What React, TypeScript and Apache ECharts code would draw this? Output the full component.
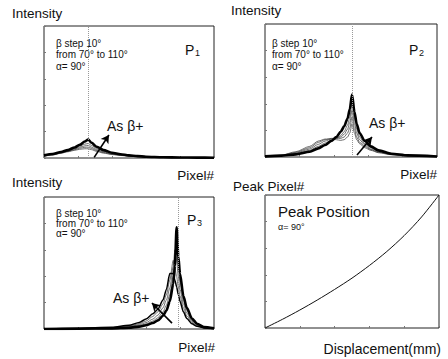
import React, { useEffect, useRef } from "react";
import * as echarts from "echarts";

// ---------- data ----------
const betaSteps = ["70°", "80°", "90°", "100°", "110°"];

// Panel P1 (pixel index 0-100, intensity 0-100)
const p1X = [0, 5, 10, 14, 18, 21, 24, 26, 28, 31, 35, 40, 45, 50, 55, 60, 70, 80, 90, 100];
const p1Curves = [
  [2, 3, 4.5, 6, 8, 10, 12.5, 14, 11.5, 8.5, 6, 4, 2.8, 2, 1.4, 1, 0.6, 0.4, 0.3, 0.2],
  [1.8, 2.8, 4.2, 5.6, 7.4, 9, 10.5, 11, 9.5, 7.2, 5.2, 3.5, 2.5, 1.8, 1.3, 0.9, 0.5, 0.4, 0.3, 0.2],
  [1.6, 2.6, 4, 5.3, 6.8, 8.2, 9.2, 9.5, 8.2, 6.3, 4.6, 3.2, 2.3, 1.6, 1.2, 0.8, 0.5, 0.3, 0.2, 0.2],
  [1.5, 2.4, 3.8, 5, 6.3, 7.4, 8.1, 8.2, 7.2, 5.6, 4.1, 2.9, 2.1, 1.5, 1.1, 0.8, 0.5, 0.3, 0.2, 0.2],
  [1.4, 2.2, 3.6, 4.7, 5.8, 6.6, 7, 7, 6.3, 5, 3.7, 2.6, 1.9, 1.4, 1, 0.7, 0.4, 0.3, 0.2, 0.2],
];

// Panel P2
const p2X = [0, 9, 18, 26, 31, 35, 38.5, 41.5, 44, 46, 48, 49.3, 50.6, 52, 53.3, 55, 58, 61.5, 66, 73.5, 83, 100];
const p2Curves = [
  [0.5, 1, 2, 4, 6.5, 9, 12, 15, 19, 23, 29, 36, 47, 34, 25, 18, 12, 8, 5, 2.5, 1.2, 0.4],
  [0.5, 1, 2.5, 5, 8, 10.5, 12.5, 14, 16, 19, 24, 30, 40, 29, 21, 15, 10, 7, 4.5, 2.2, 1.1, 0.4],
  [0.5, 1, 3, 6, 9.5, 12, 13.5, 14.5, 15, 17, 21, 26, 35, 25, 18, 13, 9, 6, 4, 2, 1, 0.4],
  [0.5, 1.1, 3.5, 7, 11, 13, 14, 14, 14, 15, 18, 22, 30, 21, 15, 11, 8, 5.5, 3.5, 1.8, 0.9, 0.4],
  [0.5, 1.2, 4, 8, 12, 13.5, 13.5, 13, 12.5, 13, 15, 18, 25, 18, 13, 10, 7, 5, 3.2, 1.7, 0.9, 0.4],
];

// Panel P3
const p3X = [0, 20, 40, 50, 56, 60, 64, 67, 70, 72, 74, 76, 77, 78, 79, 80, 82, 84, 87, 90, 94, 100];
const p3Curves = [
  [0, 0.2, 0.5, 1, 1.8, 2.8, 4.5, 6.5, 10, 14, 21, 34, 48, 77, 55, 42, 25, 16, 8, 4, 1.5, 0.5],
  [0, 0.3, 0.7, 1.4, 2.5, 3.8, 6, 8.5, 13, 18, 26, 40, 56, 66, 48, 36, 22, 14, 7, 3.5, 1.3, 0.4],
  [0, 0.4, 0.9, 1.8, 3.2, 4.8, 7.5, 10.5, 16, 22, 31, 47, 60, 52, 40, 30, 19, 12, 6, 3, 1.1, 0.3],
  [0, 0.5, 1.1, 2.3, 4, 6, 9.5, 13, 19, 26, 37, 52, 46, 40, 32, 25, 16, 10, 5, 2.5, 0.9, 0.3],
  [0, 0.6, 1.3, 2.8, 5, 7.5, 11.5, 15, 22, 30, 42, 42, 37, 32, 26, 21, 13, 8, 4, 2, 0.8, 0.2],
];

// Panel 4: peak position vs displacement
const dispX = [0, 1, 2, 3, 4, 5, 6, 7, 8, 9, 10];
const peakPixel = [0, 6.5, 13.5, 21, 29, 37.5, 47, 57.5, 69.5, 83.5, 100];

// reference (dotted) pixel and arrow annotations [x0, y0, x1, y1]
const refPixel = [26, 50.6, 78.8];
const arrows = [
  [29.5, 0.5, 38.2, 17.4],
  [53.5, 1.5, 62.2, 15],
  [75.3, 4.5, 63.5, 19.7],
];

const panelInfo = ["β step 10°", "from 70° to 110°", "α= 90°"];

export default function App() {
  const ref = useRef<HTMLDivElement>(null);
  useEffect(() => {
    if (!ref.current) return;
    const chart = echarts.init(ref.current, null, { renderer: "svg" });
    const font = "Liberation Sans, Arial, sans-serif";
    const grids = [
      { left: 44, top: 26, width: 170, height: 132 },
      { left: 265, top: 24, width: 172, height: 133 },
      { left: 44, top: 197, width: 170, height: 132 },
      { left: 265, top: 195, width: 174, height: 133 },
    ].map((g) => ({ ...g, show: true, borderColor: "#222", borderWidth: 1, backgroundColor: "transparent" }));

    const axisCommon = {
      type: "value" as const,
      axisLabel: { show: false },
      splitLine: { show: false },
      axisLine: { show: false },
      axisTick: { show: true, inside: true, length: 2, lineStyle: { color: "#777" } },
    };
    const xAxis = grids.map((_, i) => ({ ...axisCommon, gridIndex: i, min: 0, max: i === 3 ? 10 : 100, interval: i === 3 ? 2 : 20 }));
    const yAxis = grids.map((_, i) => ({ ...axisCommon, gridIndex: i, min: 0, max: 100, interval: 20 }));

    const panels = [
      { xs: p1X, curves: p1Curves },
      { xs: p2X, curves: p2Curves },
      { xs: p3X, curves: p3Curves },
    ];
    const series: any[] = [];
    panels.forEach((p, pi) => {
      p.curves.forEach((ys, ci) => {
        const thick = ci === 0;
        const medium = pi === 2 && ci === 4;
        const s: any = {
          type: "line",
          name: `P${pi + 1} β=${betaSteps[ci]}`,
          xAxisIndex: pi,
          yAxisIndex: pi,
          data: p.xs.map((x, k) => [x, ys[k]]),
          showSymbol: false,
          smooth: 0.25,
          smoothMonotone: "x",
          lineStyle: { color: thick || medium ? "#000" : "#333", width: thick ? 2.6 : medium ? 1.5 : 0.7 },
          z: thick ? 3 : 2,
        };
        if (ci === 0) {
          const a = arrows[pi];
          s.markLine = {
            silent: true,
            animation: false,
            label: { show: false },
            data: [
              [
                { coord: [refPixel[pi], 0], symbol: "none", lineStyle: { color: "#999", type: "dotted", width: 1 } },
                { coord: [refPixel[pi], 100], symbol: "none" },
              ],
              [
                { coord: [a[0], a[1]], symbol: "none", lineStyle: { color: "#000", type: "solid", width: 1.6 } },
                { coord: [a[2], a[3]], symbol: "arrow", symbolSize: [7, 8] },
              ],
            ],
          };
        }
        series.push(s);
      });
    });
    series.push({
      type: "line",
      name: "Peak Position",
      xAxisIndex: 3,
      yAxisIndex: 3,
      data: dispX.map((x, k) => [x, peakPixel[k]]),
      showSymbol: false,
      smooth: 0.3,
      lineStyle: { color: "#111", width: 1 },
    });

    const txt = (x: number, y: number, text: string, size: number, align = "left", extra: any = {}) => ({
      type: "text",
      x,
      y,
      style: { text, fontSize: size, fontFamily: font, fill: "#111", align, verticalAlign: "middle", ...extra },
    });
    const graphic: any[] = [
      txt(12, 13, "Intensity", 13.5),
      txt(231, 10, "Intensity", 13.5),
      txt(12, 182, "Intensity", 13.5),
      txt(233, 186, "Peak Pixel#", 13.5),
      txt(214, 175, "Pixel#", 13.5, "right"),
      txt(437, 174, "Pixel#", 13.5, "right"),
      txt(215, 347, "Pixel#", 13.5, "right"),
      txt(441, 349, "Displacement(mm)", 14, "right"),
      txt(107, 126, "As β+", 14),
      txt(369, 123, "As β+", 14),
      txt(113, 298, "As β+", 14),
      txt(185, 50, "P", 14),
      txt(195, 53, "1", 9),
      txt(409, 50, "P", 14),
      txt(419, 53, "2", 9),
      txt(187, 220, "P", 14),
      txt(197, 223, "3", 9),
      txt(278, 211, "Peak Position", 15),
      txt(278, 227, "α= 90°", 9),
    ];
    [
      [56, 43, 54, 66],
      [272, 43, 54, 66],
      [56, 213, 223, 233],
    ].forEach(([x, a, b, c]) => {
      graphic.push(txt(x, a, panelInfo[0], 10), txt(x, b, panelInfo[1], 10), txt(x, c, panelInfo[2], 10));
    });

    chart.setOption({
      animation: false,
      backgroundColor: "#fff",
      grid: grids,
      xAxis,
      yAxis,
      series,
      graphic,
    });
    return () => chart.dispose();
  }, []);
  return <div ref={ref} style={{ position: "fixed", left: 0, top: 0, width: 448, height: 359 }} />;
}
